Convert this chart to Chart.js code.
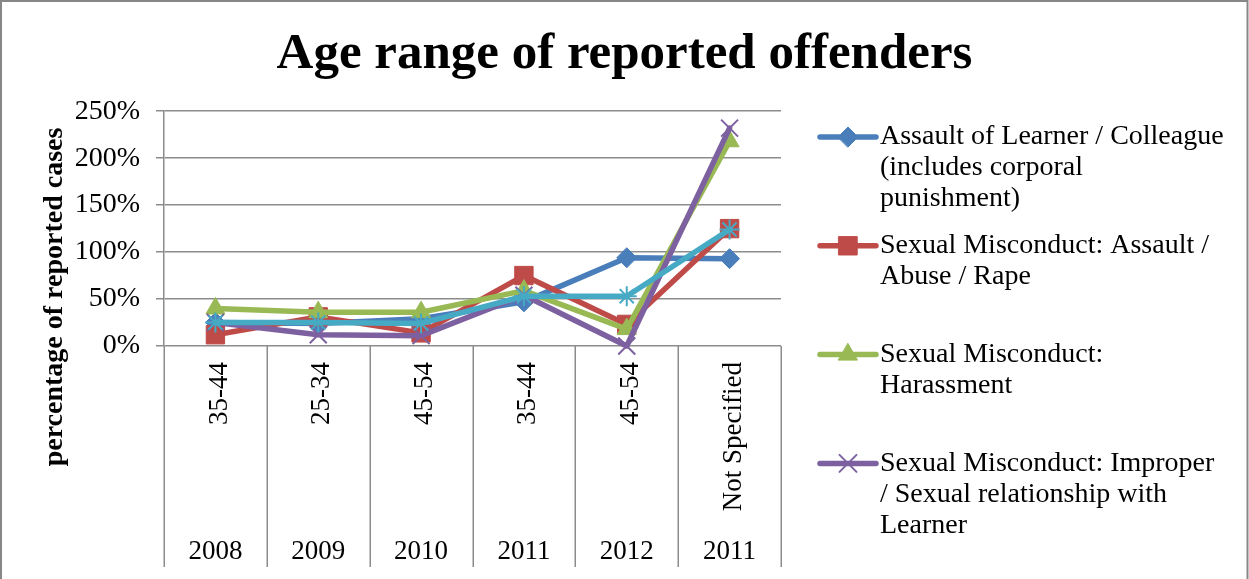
<!DOCTYPE html>
<html>
<head>
<meta charset="utf-8">
<title>Age range of reported offenders</title>
<script src="https://cdn.jsdelivr.net/npm/chart.js@4/dist/chart.umd.min.js"></script>
<style>
  html, body { margin: 0; padding: 0; background: #ffffff; }
  canvas { display: block; }
</style>
</head>
<body>
<canvas id="chart" width="1249" height="579"></canvas>
<script>
// Category rows of the two-level x axis
const ageRanges = ['35-44', '25-34', '45-54', '35-44', '45-54', 'Not Specified'];
const years = ['2008', '2009', '2010', '2011', '2012', '2011'];

// Value axis ticks (percent)
const yTicks = [0, 50, 100, 150, 200, 250];

// Series values (percent of reported cases)
const assaultOfLearner = [25, 24, 29, 47, 94, 93];
const sexualAssault = [12, 31, 14, 75, 23, 125];
const harassment = [40, 36, 36, 59, 18, 218];
const improperRelationship = [25, 12, 11, 54, 0, 232];
const series5 = [25, 25, 24, 53, 53, 124];

// Legend wording, wrapped the way the legend prints it
const legendAssault = ['Assault of Learner / Colleague', '(includes corporal', 'punishment)'];
const legendSexualAssault = ['Sexual Misconduct: Assault /', 'Abuse / Rape'];
const legendHarassment = ['Sexual Misconduct:', 'Harassment'];
const legendImproper = ['Sexual Misconduct: Improper', '/ Sexual relationship with', 'Learner'];

const FONT = 'Liberation Serif';
const GRID = '#8c8c8c';

function series(lines, data, color, pointStyle, radius, pointBorderWidth, order, inLegend) {
  return {
    label: lines.join(' '),
    legendLines: lines,
    inLegend: inLegend,
    data: data,
    xAxisID: 'x',
    yAxisID: 'y',
    borderColor: color,
    backgroundColor: color,
    pointBackgroundColor: color,
    pointBorderColor: color,
    borderWidth: 5.5,
    borderJoinStyle: 'round',
    borderCapStyle: 'round',
    pointStyle: pointStyle,
    pointRadius: radius,
    pointHoverRadius: radius,
    pointBorderWidth: pointBorderWidth,
    tension: 0,
    clip: false,
    order: order
  };
}

const datasets = [
  series(legendAssault, assaultOfLearner, '#4a7ebb', 'rectRot', 10, 1, 4, true),
  series(legendSexualAssault, sexualAssault, '#be4b48', 'rect', 13, 1, 3, true),
  series(legendHarassment, harassment, '#98b954', 'triangle', 11, 1, 2, true),
  series(legendImproper, improperRelationship, '#7d60a0', 'crossRot', 12, 2, 1, true),
  series(['Series5'], series5, '#46aac5', 'star', 10, 2, 0, false)
];

// Legend block at the right of the plot
const legendBox = { lineX0: 820, lineX1: 876, textX: 880, top: 137, step: 108.8, lineHeight: 31 };

function drawMarker(ctx, ds, x, y) {
  const opts = { pointStyle: ds.pointStyle, radius: ds.pointRadius, borderWidth: ds.pointBorderWidth, rotation: 0 };
  ctx.fillStyle = ds.pointBackgroundColor;
  ctx.strokeStyle = ds.pointBorderColor;
  ctx.lineWidth = ds.pointBorderWidth;
  Chart.helpers.drawPoint(ctx, opts, x, y);
}

const decorations = {
  id: 'decorations',
  afterDraw(chart) {
    const ctx = chart.ctx;
    const x = chart.scales.x;
    const x2 = chart.scales.x2;
    const area = chart.chartArea;

    ctx.save();
    // Column separators running through the category label rows
    ctx.strokeStyle = GRID;
    ctx.lineWidth = 1.5;
    for (let i = 0; i <= ageRanges.length; i++) {
      const px = Math.round(x.getPixelForValue(i - 0.5)) + 0.25;
      ctx.beginPath();
      ctx.moveTo(px, area.bottom);
      ctx.lineTo(px, x2.bottom);
      ctx.stroke();
    }

    // Value axis title
    ctx.save();
    ctx.translate(55, 297);
    ctx.rotate(-Math.PI / 2);
    ctx.font = 'bold 28px "' + FONT + '"';
    ctx.fillStyle = '#000000';
    ctx.textAlign = 'center';
    ctx.textBaseline = 'middle';
    ctx.fillText('percentage of reported cases', 0, 0);
    ctx.restore();

    // Legend
    const items = chart.data.datasets.filter(d => d.inLegend);
    items.forEach((ds, k) => {
      const y = legendBox.top + k * legendBox.step;
      ctx.strokeStyle = ds.borderColor;
      ctx.lineWidth = ds.borderWidth;
      ctx.lineCap = 'round';
      ctx.beginPath();
      ctx.moveTo(legendBox.lineX0, y);
      ctx.lineTo(legendBox.lineX1, y);
      ctx.stroke();
      drawMarker(ctx, ds, (legendBox.lineX0 + legendBox.lineX1) / 2, y);

      ctx.font = '28px "' + FONT + '"';
      ctx.fillStyle = '#000000';
      ctx.textAlign = 'left';
      ctx.textBaseline = 'middle';
      ds.legendLines.forEach((t, j) => ctx.fillText(t, legendBox.textX, y + j * legendBox.lineHeight));
    });

    // Outer frame of the chart
    ctx.strokeStyle = '#878787';
    ctx.lineWidth = 2;
    ctx.strokeRect(1, 1, chart.width - 2.5, chart.height + 20);
    ctx.restore();
  }
};

Chart.defaults.font.family = FONT;
Chart.defaults.color = '#000000';

new Chart(document.getElementById('chart'), {
  type: 'line',
  data: { labels: ageRanges, datasets: datasets },
  options: {
    responsive: false,
    animation: false,
    events: [],
    layout: { padding: { left: 0, right: 0, top: 0, bottom: 12 } },
    plugins: {
      legend: { display: false },
      tooltip: { enabled: false },
      title: {
        display: true,
        text: 'Age range of reported offenders',
        color: '#000000',
        font: { family: FONT, size: 51, weight: 'bold', lineHeight: 1.2 },
        padding: { top: 24, bottom: 26 }
      }
    },
    scales: {
      x: {
        type: 'category',
        labels: ageRanges,
        position: 'bottom',
        weight: 0,
        offset: true,
        grid: { display: false, drawTicks: false },
        border: { display: false },
        ticks: {
          autoSkip: false,
          minRotation: 90,
          maxRotation: 90,
          padding: 16,
          labelOffset: 4,
          color: '#000000',
          font: { family: FONT, size: 27 }
        },
        afterFit(s) { s.height = 184; }
      },
      x2: {
        type: 'category',
        labels: years,
        position: 'bottom',
        weight: 1,
        offset: true,
        grid: { display: false, drawTicks: false },
        border: { display: false },
        ticks: {
          autoSkip: false,
          maxRotation: 0,
          padding: 6,
          color: '#000000',
          font: { family: FONT, size: 27 }
        },
        afterFit(s) { s.height = 37; }
      },
      y: {
        type: 'linear',
        position: 'left',
        min: yTicks[0],
        max: yTicks[yTicks.length - 1],
        grid: { color: GRID, lineWidth: 1.5, drawTicks: true, tickLength: 8, tickColor: GRID },
        border: { display: true, color: GRID, width: 1.5 },
        ticks: {
          padding: 16,
          color: '#000000',
          font: { family: FONT, size: 28 },
          callback: v => v + '%'
        },
        afterBuildTicks(s) { s.ticks = yTicks.map(v => ({ value: v })); },
        afterFit(s) { s.width = 164; }
      },
      legendSpace: {
        type: 'linear',
        position: 'right',
        display: true,
        grid: { display: false, drawTicks: false },
        border: { display: false },
        ticks: { display: false },
        afterFit(s) { s.width = 468; }
      }
    }
  },
  plugins: [decorations]
});
</script>
</body>
</html>
